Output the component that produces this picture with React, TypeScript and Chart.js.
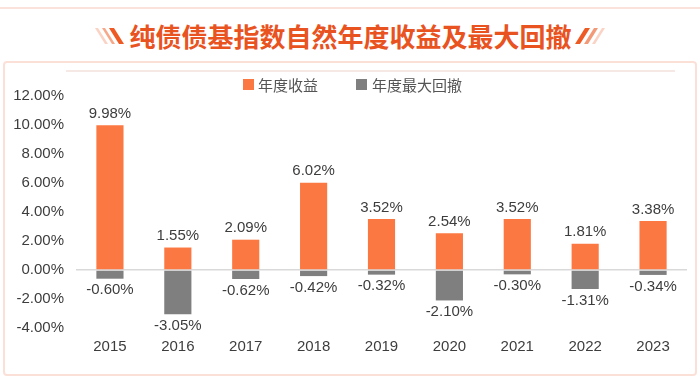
import React, { useEffect, useRef } from "react";
import { Chart, registerables } from "chart.js";

Chart.register(...registerables);

const years = ["2015", "2016", "2017", "2018", "2019", "2020", "2021", "2022", "2023"];
const annualReturn = [9.98, 1.55, 2.09, 6.02, 3.52, 2.54, 3.52, 1.81, 3.38];
const maxDrawdown = [-0.6, -3.05, -0.62, -0.42, -0.32, -2.1, -0.3, -1.31, -0.34];
const seriesNames = ["年度收益", "年度最大回撤"];
const seriesColors = ["#FC7843", "#7F7F7F"];
const titleText = "纯债债基指数自然年度收益及最大回撤";

const FONT = "'Liberation Sans', 'Noto Sans CJK SC', sans-serif";
const TEXT = "#3d3d3d";

const labelPlugin = {
  id: "valueLabels",
  afterDatasetsDraw(chart: any) {
    const ctx = chart.ctx;
    ctx.save();
    ctx.font = `15px ${FONT}`;
    ctx.fillStyle = TEXT;
    ctx.textAlign = "center";
    chart.data.datasets.forEach((ds: any, di: number) => {
      const meta = chart.getDatasetMeta(di);
      meta.data.forEach((el: any, i: number) => {
        const v = ds.data[i];
        const txt = v.toFixed(2) + "%";
        if (v >= 0) {
          ctx.textBaseline = "bottom";
          ctx.fillText(txt, el.x, el.y - 4);
        } else {
          ctx.textBaseline = "top";
          ctx.fillText(txt, el.x, el.y + 4);
        }
      });
    });
    ctx.restore();
  },
};

function ChartCanvas() {
  const ref = useRef<HTMLCanvasElement>(null);
  useEffect(() => {
    const chart = new Chart(ref.current!, {
      type: "bar",
      data: {
        labels: years,
        datasets: [
          { label: seriesNames[0], data: annualReturn, backgroundColor: seriesColors[0], categoryPercentage: 0.8, barPercentage: 0.5 },
          { label: seriesNames[1], data: maxDrawdown, backgroundColor: seriesColors[1], categoryPercentage: 0.8, barPercentage: 0.5 },
        ],
      },
      options: {
        animation: false,
        responsive: false,
        layout: { padding: { top: 35, right: 13, bottom: 17, left: 0 } },
        plugins: { legend: { display: false }, tooltip: { enabled: false } },
        scales: {
          x: {
            stacked: true,
            grid: { display: false },
            border: { display: false },
            ticks: { color: TEXT, font: { size: 15, family: FONT }, padding: 2 },
          },
          y: {
            stacked: true,
            min: -4,
            max: 12,
            afterFit: (s: any) => { s.width = 76; },
            grid: {
              color: (c: any) => (c.tick && c.tick.value === 0 ? "#d9d9d9" : "rgba(0,0,0,0)"),
              lineWidth: 1.5,
              drawTicks: false,
            },
            border: { display: false },
            ticks: {
              stepSize: 2,
              color: TEXT,
              font: { size: 15, family: FONT },
              padding: 12,
              callback: (v: any) => Number(v).toFixed(2) + "%",
            },
          },
        },
      },
      plugins: [labelPlugin],
    });
    return () => chart.destroy();
  }, []);
  return <canvas ref={ref} width={700} height={314} style={{ position: "absolute", left: 0, top: 61, width: 700, height: 314 }} />;
}

function Slash({ color, dir, w = 4 }: { color: string; dir: number; w?: number }) {
  return (
    <span
      style={{
        display: "inline-block",
        width: w,
        height: 16,
        background: color,
        transform: `skewX(${dir * 32}deg)`,
        margin: "0 2px",
      }}
    />
  );
}

export default function App() {
  return (
    <div style={{ position: "fixed", left: 0, top: 0, width: 700, height: 383, background: "#fff", overflow: "hidden", fontFamily: FONT }}>
      <div style={{ position: "absolute", left: 0, top: 7, width: 700, height: 2, background: "#fbe2db" }} />
      <div
        style={{
          position: "absolute",
          left: 0,
          top: 19,
          width: 700,
          height: 34,
          display: "flex",
          alignItems: "center",
          justifyContent: "center",
        }}
      >
        <span style={{ display: "flex", alignItems: "center", marginRight: 8 }}>
          <Slash color="#fbd3c4" dir={1} w={3} />
          <Slash color="#f7a88a" dir={1} w={3} />
          <Slash color="#EE5A24" dir={1} w={5} />
        </span>
        <span style={{ fontSize: 26, fontWeight: 700, color: "#E8531F", fontFamily: "'Noto Sans CJK SC', sans-serif", lineHeight: "34px" }}>
          {titleText}
        </span>
        <span style={{ display: "flex", alignItems: "center", marginLeft: 6 }}>
          <Slash color="#EE5A24" dir={-1} w={5} />
          <Slash color="#f29a78" dir={-1} w={4} />
          <Slash color="#fbd3c4" dir={-1} w={3} />
        </span>
      </div>
      <div
        style={{
          position: "absolute",
          left: 3,
          top: 61,
          width: 690,
          height: 311,
          border: "2px solid #fbe0d8",
          borderRadius: 4,
        }}
      />
      <div style={{ position: "absolute", left: 66, top: 70, width: 609, height: 2, background: "#f6e8e4" }} />
      <ChartCanvas />
      <div
        style={{
          position: "absolute",
          left: 243,
          top: 74,
          height: 20,
          display: "flex",
          alignItems: "center",
          fontFamily: "'Noto Sans CJK SC', sans-serif",
          fontSize: 15,
          color: "#555",
        }}
      >
        <span style={{ width: 11, height: 11, background: seriesColors[0], display: "inline-block", marginRight: 4 }} />
        <span>{seriesNames[0]}</span>
        <span style={{ width: 11, height: 11, background: seriesColors[1], display: "inline-block", marginLeft: 38, marginRight: 5 }} />
        <span>{seriesNames[1]}</span>
      </div>
    </div>
  );
}
